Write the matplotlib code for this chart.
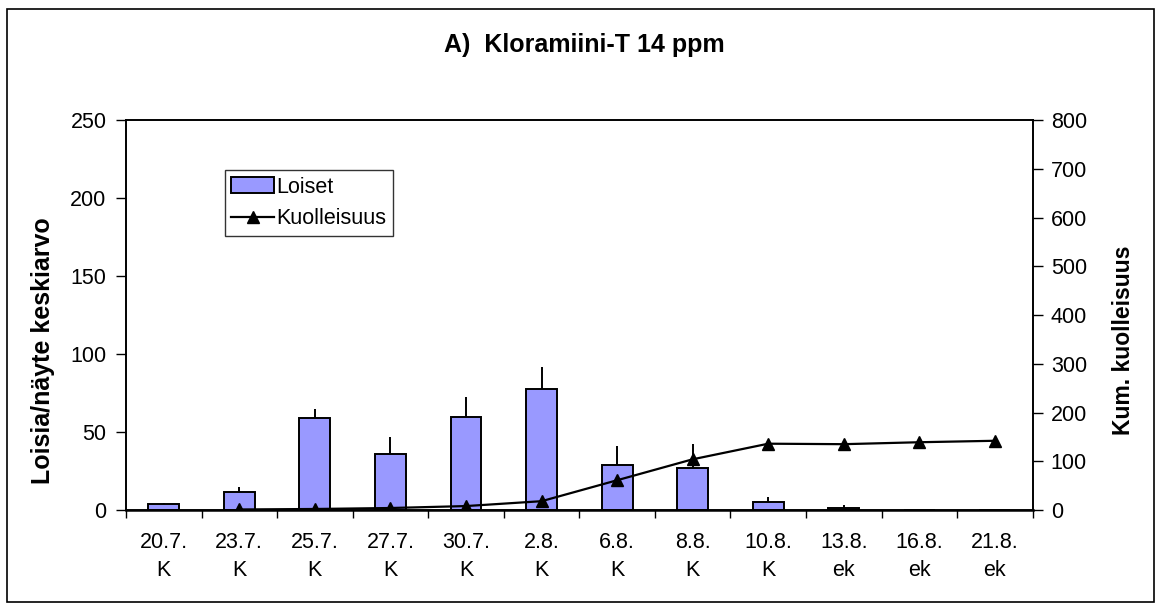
import numpy as np
import matplotlib.pyplot as plt
from matplotlib.patches import Rectangle

plt.rcParams['font.family'] = ['Liberation Sans', 'DejaVu Sans']

# Näytteenottopäivät ja käsittelyt
paivat = ['20.7.', '23.7.', '25.7.', '27.7.', '30.7.', '2.8.',
          '6.8.', '8.8.', '10.8.', '13.8.', '16.8.', '21.8.']
kasittely = ['K', 'K', 'K', 'K', 'K', 'K', 'K', 'K', 'K', 'ek', 'ek', 'ek']

# Loiset / näyte, keskiarvo ja keskihajonta
loiset = [3.8, 11.7, 59.3, 36.2, 59.7, 77.8, 28.8, 26.9, 4.9, 1.2, 0, 0]
loiset_sd = [0.7, 2.8, 5.7, 10.7, 12.8, 13.9, 12.1, 15.1, 3.6, 1.8, 0, 0]

# Kumulatiivinen kuolleisuus (alkaa 23.7.)
kuolleisuus = [np.nan, 1, 2, 4, 8, 18, 61, 104, 136, 135, 139, 142]

x = np.arange(len(paivat))

fig = plt.figure(figsize=(11.61, 6.10), dpi=100)
fig.patches.append(Rectangle((0.006, 0.013), 0.988, 0.972, transform=fig.transFigure,
                             fill=False, edgecolor='black', linewidth=1.2))

ax = fig.add_axes([0.1085, 0.164, 0.781, 0.639])
ax2 = ax.twinx()

bars = ax.bar(x, loiset, width=0.41, color='#9999FF', edgecolor='black', linewidth=1.4,
              label='Loiset', zorder=2)
ax.errorbar(x, loiset, yerr=[np.zeros(len(loiset)), loiset_sd], fmt='none',
            ecolor='black', elinewidth=1.4, capsize=0, zorder=1)

line, = ax2.plot(x, kuolleisuus, color='black', linewidth=1.6, marker='^',
                 markersize=9, label='Kuolleisuus', zorder=3)

ax.set_xlim(-0.5, len(paivat) - 0.5)
ax.set_ylim(0, 250)
ax.set_yticks(range(0, 251, 50))
ax2.set_ylim(0, 800)
ax2.set_yticks(range(0, 801, 100))

# kategoriat ruutujen keskelle, tikit niiden väliin
ax.set_xticks(x)
ax.set_xticklabels([f'{p}\n{k}' for p, k in zip(paivat, kasittely)], fontsize=15.5,
                   linespacing=1.45)
ax.tick_params(axis='x', which='major', length=0, pad=16)
ax.set_xticks(np.arange(-0.5, len(paivat)), minor=True)
ax.tick_params(axis='x', which='minor', length=6, width=1.0, direction='out')

ax.tick_params(axis='y', labelsize=15.5, length=7, width=1.0, direction='out', pad=7)
ax2.tick_params(axis='y', labelsize=15.5, length=7, width=1.0, direction='out', pad=6)

for a in (ax, ax2):
    for s in a.spines.values():
        s.set_linewidth(1.2)
ax.spines['bottom'].set_linewidth(1.8)

ax.set_ylabel('Loisia/näyte keskiarvo', fontsize=18, fontweight='bold')
ax.yaxis.set_label_coords(-0.078, 0.41)
ax2.set_ylabel('Kum. kuolleisuus', fontsize=16.5, fontweight='bold')
ax2.yaxis.set_label_coords(1.087, 0.436)

fig.text(0.503, 0.926, 'A)  Kloramiini-T 14 ppm', ha='center', va='center',
         fontsize=18, fontweight='bold')

leg = ax.legend([bars, line], ['Loiset', 'Kuolleisuus'], loc='upper left',
                bbox_to_anchor=(0.109, 0.872), fontsize=15.5, frameon=True, fancybox=False,
                edgecolor='black', handlelength=2.0, handletextpad=0.1,
                borderpad=0.3, labelspacing=0.5, borderaxespad=0)
leg.get_frame().set_linewidth(1.0)

fig.savefig('out.png', dpi=100)
